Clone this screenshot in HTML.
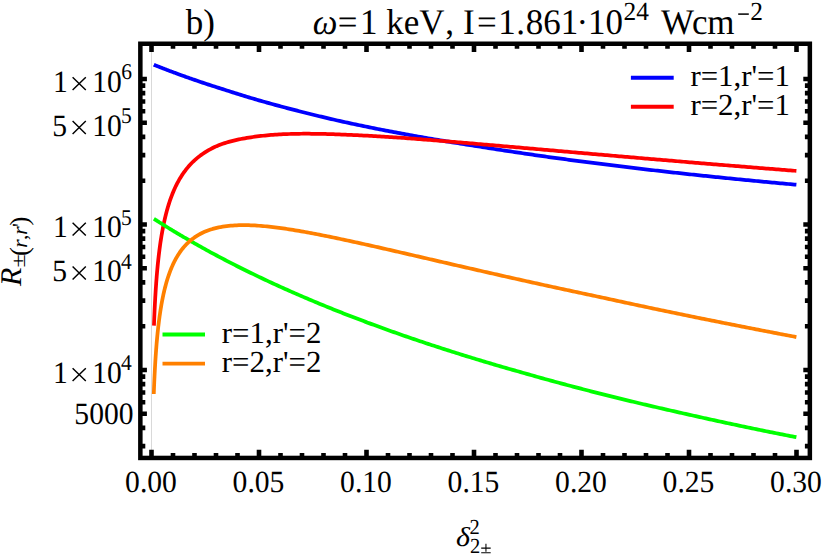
<!DOCTYPE html>
<html><head><meta charset="utf-8"><title>plot</title>
<style>
html,body{margin:0;padding:0;background:#fff;}
body{width:822px;height:554px;overflow:hidden;}
svg{display:block;font-family:"Liberation Serif",serif;fill:#000;text-rendering:geometricPrecision;}
</style></head>
<body>
<svg width="822" height="554" viewBox="0 0 822 554">
<rect x="0" y="0" width="822" height="554" fill="#ffffff"/>
<rect x="140.35" y="43.75" width="669.50" height="414.20" fill="none" stroke="#000" stroke-width="4.50"/>
<line x1="151.5" y1="46.0" x2="151.5" y2="455.7" stroke="#cfcfcf" stroke-width="0.8"/>
<path d="M151.50 456.70 v-7.00 M151.50 45.00 v7.00 M173.00 456.70 v-3.70 M173.00 45.00 v3.70 M194.50 456.70 v-3.70 M194.50 45.00 v3.70 M216.00 456.70 v-3.70 M216.00 45.00 v3.70 M237.50 456.70 v-3.70 M237.50 45.00 v3.70 M259.00 456.70 v-7.00 M259.00 45.00 v7.00 M280.50 456.70 v-3.70 M280.50 45.00 v3.70 M302.00 456.70 v-3.70 M302.00 45.00 v3.70 M323.50 456.70 v-3.70 M323.50 45.00 v3.70 M345.00 456.70 v-3.70 M345.00 45.00 v3.70 M366.50 456.70 v-7.00 M366.50 45.00 v7.00 M388.00 456.70 v-3.70 M388.00 45.00 v3.70 M409.50 456.70 v-3.70 M409.50 45.00 v3.70 M431.00 456.70 v-3.70 M431.00 45.00 v3.70 M452.50 456.70 v-3.70 M452.50 45.00 v3.70 M474.00 456.70 v-7.00 M474.00 45.00 v7.00 M495.50 456.70 v-3.70 M495.50 45.00 v3.70 M517.00 456.70 v-3.70 M517.00 45.00 v3.70 M538.50 456.70 v-3.70 M538.50 45.00 v3.70 M560.00 456.70 v-3.70 M560.00 45.00 v3.70 M581.50 456.70 v-7.00 M581.50 45.00 v7.00 M603.00 456.70 v-3.70 M603.00 45.00 v3.70 M624.50 456.70 v-3.70 M624.50 45.00 v3.70 M646.00 456.70 v-3.70 M646.00 45.00 v3.70 M667.50 456.70 v-3.70 M667.50 45.00 v3.70 M689.00 456.70 v-7.00 M689.00 45.00 v7.00 M710.50 456.70 v-3.70 M710.50 45.00 v3.70 M732.00 456.70 v-3.70 M732.00 45.00 v3.70 M753.50 456.70 v-3.70 M753.50 45.00 v3.70 M775.00 456.70 v-3.70 M775.00 45.00 v3.70 M796.50 456.70 v-7.00 M796.50 45.00 v7.00 M141.60 79.00 h5.30 M808.60 79.00 h-5.30 M141.60 122.80 h5.30 M808.60 122.80 h-5.30 M141.60 224.50 h5.30 M808.60 224.50 h-5.30 M141.60 268.30 h5.30 M808.60 268.30 h-5.30 M141.60 370.00 h5.30 M808.60 370.00 h-5.30 M141.60 413.80 h5.30 M808.60 413.80 h-5.30 M141.60 446.08 h3.70 M808.60 446.08 h-3.70 M141.60 427.90 h3.70 M808.60 427.90 h-3.70 M141.60 413.80 h5.30 M808.60 413.80 h-5.30 M141.60 402.28 h3.70 M808.60 402.28 h-3.70 M141.60 392.54 h3.70 M808.60 392.54 h-3.70 M141.60 384.10 h3.70 M808.60 384.10 h-3.70 M141.60 376.66 h3.70 M808.60 376.66 h-3.70 M141.60 326.20 h3.70 M808.60 326.20 h-3.70 M141.60 300.58 h3.70 M808.60 300.58 h-3.70 M141.60 282.40 h3.70 M808.60 282.40 h-3.70 M141.60 268.30 h5.30 M808.60 268.30 h-5.30 M141.60 256.78 h3.70 M808.60 256.78 h-3.70 M141.60 247.04 h3.70 M808.60 247.04 h-3.70 M141.60 238.60 h3.70 M808.60 238.60 h-3.70 M141.60 231.16 h3.70 M808.60 231.16 h-3.70 M141.60 180.70 h3.70 M808.60 180.70 h-3.70 M141.60 155.08 h3.70 M808.60 155.08 h-3.70 M141.60 136.90 h3.70 M808.60 136.90 h-3.70 M141.60 122.80 h5.30 M808.60 122.80 h-5.30 M141.60 111.28 h3.70 M808.60 111.28 h-3.70 M141.60 101.54 h3.70 M808.60 101.54 h-3.70 M141.60 93.10 h3.70 M808.60 93.10 h-3.70 M141.60 85.66 h3.70 M808.60 85.66 h-3.70" stroke="#000" stroke-width="4.60" fill="none"/>
<path d="M153.87 64.76 L153.92 64.79 L153.98 64.81 L154.04 64.83 L154.11 64.86 L154.17 64.88 L154.24 64.91 L154.30 64.94 L154.37 64.97 L154.45 64.99 L154.52 65.02 L154.59 65.05 L154.67 65.08 L154.75 65.12 L154.83 65.15 L154.91 65.18 L154.99 65.21 L155.08 65.25 L155.17 65.28 L155.26 65.32 L155.35 65.36 L155.45 65.39 L155.54 65.43 L155.64 65.47 L155.74 65.51 L155.85 65.56 L155.96 65.60 L156.07 65.64 L156.18 65.69 L156.30 65.73 L156.41 65.78 L156.53 65.83 L156.66 65.88 L156.79 65.93 L156.92 65.98 L157.05 66.03 L157.19 66.09 L157.33 66.14 L157.47 66.20 L157.62 66.26 L157.77 66.32 L157.92 66.38 L158.08 66.44 L158.25 66.50 L158.41 66.57 L158.58 66.64 L158.76 66.71 L158.94 66.78 L159.12 66.85 L159.31 66.92 L159.50 67.00 L159.70 67.08 L159.90 67.16 L160.11 67.24 L160.32 67.32 L160.54 67.40 L160.76 67.49 L160.99 67.58 L161.22 67.67 L161.46 67.77 L161.71 67.86 L161.96 67.96 L162.22 68.06 L162.48 68.16 L162.75 68.27 L163.03 68.38 L163.32 68.49 L163.61 68.60 L163.91 68.71 L164.21 68.83 L164.53 68.95 L164.85 69.08 L165.18 69.20 L165.51 69.33 L165.86 69.46 L166.21 69.60 L166.58 69.74 L166.95 69.88 L167.33 70.03 L167.72 70.18 L168.12 70.33 L168.53 70.48 L168.95 70.64 L169.38 70.81 L169.82 70.97 L170.27 71.14 L170.74 71.32 L171.21 71.50 L171.70 71.68 L172.20 71.86 L172.71 72.06 L173.23 72.25 L173.77 72.45 L174.32 72.65 L174.88 72.86 L175.46 73.08 L176.05 73.29 L176.65 73.52 L177.27 73.75 L177.91 73.98 L178.56 74.22 L179.23 74.46 L179.91 74.71 L180.61 74.96 L181.33 75.22 L182.07 75.49 L182.82 75.76 L183.60 76.04 L184.39 76.32 L185.20 76.61 L186.03 76.91 L186.88 77.21 L187.76 77.52 L188.65 77.84 L189.57 78.16 L190.51 78.49 L191.47 78.83 L192.45 79.17 L193.46 79.52 L194.50 79.88 L196.51 80.57 L198.53 81.26 L200.54 81.94 L202.55 82.62 L204.57 83.29 L206.58 83.96 L208.59 84.62 L210.60 85.28 L212.62 85.94 L214.63 86.59 L216.64 87.24 L218.66 87.88 L220.67 88.52 L222.68 89.15 L224.70 89.78 L226.71 90.43 L228.72 91.08 L230.73 91.72 L232.75 92.36 L234.76 92.99 L236.77 93.63 L238.79 94.25 L240.80 94.88 L242.81 95.50 L244.83 96.11 L246.84 96.73 L248.85 97.34 L250.86 97.94 L252.88 98.54 L254.89 99.14 L256.90 99.74 L258.92 100.33 L260.93 100.91 L262.94 101.48 L264.96 102.05 L266.97 102.61 L268.98 103.17 L270.99 103.73 L273.01 104.28 L275.02 104.83 L277.03 105.38 L279.05 105.92 L281.06 106.46 L283.07 107.00 L285.09 107.54 L287.10 108.07 L289.11 108.60 L291.12 109.12 L293.14 109.65 L295.15 110.17 L297.16 110.69 L299.18 111.20 L301.19 111.71 L303.20 112.22 L305.22 112.73 L307.23 113.23 L309.24 113.73 L311.26 114.23 L313.27 114.73 L315.28 115.22 L317.29 115.71 L319.31 116.20 L321.32 116.68 L323.33 117.16 L325.35 117.64 L327.36 118.12 L329.37 118.60 L331.39 119.07 L333.40 119.54 L335.41 120.01 L337.42 120.47 L339.44 120.94 L341.45 121.38 L343.46 121.82 L345.48 122.26 L347.49 122.70 L349.50 123.13 L351.52 123.56 L353.53 123.99 L355.54 124.42 L357.55 124.84 L359.57 125.27 L361.58 125.69 L363.59 126.10 L365.61 126.52 L367.62 126.93 L369.63 127.34 L371.65 127.75 L373.66 128.16 L375.67 128.57 L377.68 128.97 L379.70 129.37 L381.71 129.77 L383.72 130.17 L385.74 130.56 L387.75 130.95 L389.76 131.33 L391.78 131.71 L393.79 132.09 L395.80 132.46 L397.81 132.84 L399.83 133.21 L401.84 133.58 L403.85 133.95 L405.87 134.32 L407.88 134.68 L409.89 135.04 L411.91 135.41 L413.92 135.77 L415.93 136.12 L417.95 136.48 L419.96 136.83 L421.97 137.19 L423.98 137.54 L426.00 137.89 L428.01 138.24 L430.02 138.58 L432.04 138.93 L434.05 139.27 L436.06 139.61 L438.08 139.95 L440.09 140.29 L442.10 140.63 L444.11 140.96 L446.13 141.30 L448.14 141.63 L450.15 141.96 L452.17 142.29 L454.18 142.62 L456.19 142.95 L458.21 143.27 L460.22 143.60 L462.23 143.92 L464.24 144.24 L466.26 144.56 L468.27 144.88 L470.28 145.19 L472.30 145.51 L474.31 145.82 L476.32 146.14 L478.34 146.45 L480.35 146.76 L482.36 147.08 L484.37 147.40 L486.39 147.72 L488.40 148.04 L490.41 148.36 L492.43 148.68 L494.44 148.99 L496.45 149.31 L498.47 149.62 L500.48 149.93 L502.49 150.24 L504.50 150.55 L506.52 150.85 L508.53 151.16 L510.54 151.46 L512.56 151.77 L514.57 152.07 L516.58 152.37 L518.60 152.67 L520.61 152.97 L522.62 153.27 L524.64 153.56 L526.65 153.86 L528.66 154.15 L530.67 154.44 L532.69 154.73 L534.70 155.02 L536.71 155.31 L538.73 155.60 L540.74 155.89 L542.75 156.17 L544.77 156.46 L546.78 156.74 L548.79 157.02 L550.80 157.30 L552.82 157.58 L554.83 157.86 L556.84 158.14 L558.86 158.41 L560.87 158.69 L562.88 158.96 L564.90 159.23 L566.91 159.51 L568.92 159.78 L570.93 160.05 L572.95 160.32 L574.96 160.58 L576.97 160.85 L578.99 161.12 L581.00 161.38 L583.01 161.64 L585.03 161.91 L587.04 162.17 L589.05 162.43 L591.06 162.69 L593.08 162.95 L595.09 163.20 L597.10 163.46 L599.12 163.72 L601.13 163.97 L603.14 164.22 L605.16 164.48 L607.17 164.73 L609.18 164.98 L611.19 165.23 L613.21 165.48 L615.22 165.73 L617.23 165.97 L619.25 166.22 L621.26 166.46 L623.27 166.71 L625.29 166.95 L627.30 167.19 L629.31 167.43 L631.32 167.68 L633.34 167.92 L635.35 168.15 L637.36 168.39 L639.38 168.63 L641.39 168.86 L643.40 169.10 L645.42 169.33 L647.43 169.57 L649.44 169.80 L651.46 170.03 L653.47 170.26 L655.48 170.49 L657.49 170.72 L659.51 170.95 L661.52 171.18 L663.53 171.40 L665.55 171.63 L667.56 171.86 L669.57 172.08 L671.59 172.30 L673.60 172.53 L675.61 172.75 L677.62 172.97 L679.64 173.19 L681.65 173.41 L683.66 173.63 L685.68 173.85 L687.69 174.06 L689.70 174.28 L691.72 174.49 L693.73 174.71 L695.74 174.92 L697.75 175.14 L699.77 175.35 L701.78 175.56 L703.79 175.77 L705.81 175.98 L707.82 176.19 L709.83 176.40 L711.85 176.61 L713.86 176.81 L715.87 177.02 L717.88 177.23 L719.90 177.43 L721.91 177.64 L723.92 177.84 L725.94 178.04 L727.95 178.25 L729.96 178.45 L731.98 178.65 L733.99 178.85 L736.00 179.05 L738.01 179.25 L740.03 179.44 L742.04 179.64 L744.05 179.84 L746.07 180.03 L748.08 180.23 L750.09 180.42 L752.11 180.62 L754.12 180.81 L756.13 181.00 L758.15 181.20 L760.16 181.39 L762.17 181.58 L764.18 181.77 L766.20 181.96 L768.21 182.15 L770.22 182.33 L772.24 182.52 L774.25 182.71 L776.26 182.89 L778.28 183.08 L780.29 183.26 L782.30 183.45 L784.31 183.63 L786.33 183.82 L788.34 184.00 L790.35 184.18 L792.37 184.36 L794.38 184.54 L796.39 184.72" stroke="#0000ff" stroke-width="3.75" fill="none" stroke-linejoin="round"/>
<path d="M153.95 325.61 L154.01 324.02 L154.07 322.43 L154.13 320.84 L154.19 319.26 L154.26 317.67 L154.33 316.09 L154.40 314.50 L154.47 312.92 L154.54 311.34 L154.61 309.76 L154.69 308.18 L154.77 306.61 L154.85 305.03 L154.93 303.46 L155.01 301.89 L155.10 300.32 L155.18 298.75 L155.27 297.18 L155.37 295.62 L155.46 294.06 L155.56 292.50 L155.66 290.94 L155.76 289.38 L155.86 287.82 L155.97 286.27 L156.08 284.72 L156.19 283.17 L156.30 281.62 L156.42 280.08 L156.54 278.53 L156.66 276.99 L156.79 275.46 L156.92 273.92 L157.05 272.39 L157.18 270.86 L157.32 269.33 L157.47 267.80 L157.61 266.28 L157.76 264.76 L157.91 263.24 L158.07 261.73 L158.23 260.22 L158.39 258.71 L158.56 257.20 L158.73 255.70 L158.91 254.20 L159.09 252.71 L159.28 251.21 L159.46 249.72 L159.66 248.24 L159.86 246.76 L160.06 245.28 L160.27 243.80 L160.48 242.33 L160.70 240.87 L160.93 239.40 L161.16 237.94 L161.39 236.49 L161.63 235.04 L161.88 233.59 L162.13 232.15 L162.39 230.71 L162.66 229.28 L162.93 227.85 L163.21 226.43 L163.50 225.01 L163.79 223.60 L164.09 222.19 L164.39 220.79 L164.71 219.39 L165.03 218.00 L165.36 216.62 L165.70 215.23 L166.04 213.86 L166.40 212.49 L166.76 211.13 L167.13 209.77 L167.52 208.42 L167.91 207.08 L168.31 205.74 L168.72 204.41 L169.14 203.09 L169.57 201.77 L170.01 200.46 L170.46 199.16 L170.92 197.87 L171.39 196.58 L171.88 195.30 L172.38 194.03 L172.88 192.77 L173.41 191.51 L173.94 190.27 L174.49 189.03 L175.05 187.80 L175.62 186.58 L176.21 185.36 L176.81 184.16 L177.43 182.97 L178.06 181.78 L178.71 180.61 L179.37 179.44 L180.05 178.29 L180.75 177.15 L181.46 176.01 L182.19 174.89 L182.94 173.77 L183.71 172.67 L184.49 171.58 L185.30 170.50 L186.12 169.43 L186.96 168.38 L187.83 167.33 L188.71 166.30 L189.62 165.28 L190.55 164.27 L191.50 163.27 L192.48 162.29 L193.48 161.32 L194.50 160.36 L196.51 158.58 L198.53 156.92 L200.54 155.38 L202.55 153.94 L204.57 152.59 L206.58 151.33 L208.59 150.15 L210.60 149.05 L212.62 148.01 L214.63 147.04 L216.64 146.15 L218.66 145.33 L220.67 144.55 L222.68 143.83 L224.70 143.14 L226.71 142.51 L228.72 141.91 L230.73 141.34 L232.75 140.82 L234.76 140.32 L236.77 139.86 L238.79 139.42 L240.80 139.02 L242.81 138.64 L244.83 138.28 L246.84 137.95 L248.85 137.64 L250.86 137.33 L252.88 137.02 L254.89 136.73 L256.90 136.46 L258.92 136.20 L260.93 135.96 L262.94 135.74 L264.96 135.53 L266.97 135.34 L268.98 135.16 L270.99 134.99 L273.01 134.84 L275.02 134.70 L277.03 134.57 L279.05 134.45 L281.06 134.34 L283.07 134.24 L285.09 134.15 L287.10 134.07 L289.11 134.00 L291.12 133.94 L293.14 133.89 L295.15 133.84 L297.16 133.81 L299.18 133.77 L301.19 133.75 L303.20 133.74 L305.22 133.74 L307.23 133.74 L309.24 133.74 L311.26 133.76 L313.27 133.77 L315.28 133.80 L317.29 133.83 L319.31 133.86 L321.32 133.90 L323.33 133.94 L325.35 133.99 L327.36 134.04 L329.37 134.10 L331.39 134.16 L333.40 134.22 L335.41 134.29 L337.42 134.36 L339.44 134.44 L341.45 134.52 L343.46 134.60 L345.48 134.69 L347.49 134.78 L349.50 134.87 L351.52 134.95 L353.53 135.04 L355.54 135.14 L357.55 135.23 L359.57 135.33 L361.58 135.43 L363.59 135.53 L365.61 135.63 L367.62 135.74 L369.63 135.85 L371.65 135.96 L373.66 136.07 L375.67 136.18 L377.68 136.30 L379.70 136.42 L381.71 136.54 L383.72 136.66 L385.74 136.78 L387.75 136.91 L389.76 137.03 L391.78 137.16 L393.79 137.29 L395.80 137.42 L397.81 137.55 L399.83 137.68 L401.84 137.83 L403.85 137.98 L405.87 138.13 L407.88 138.28 L409.89 138.43 L411.91 138.58 L413.92 138.73 L415.93 138.89 L417.95 139.04 L419.96 139.20 L421.97 139.35 L423.98 139.51 L426.00 139.67 L428.01 139.83 L430.02 139.99 L432.04 140.15 L434.05 140.31 L436.06 140.47 L438.08 140.64 L440.09 140.80 L442.10 140.96 L444.11 141.13 L446.13 141.29 L448.14 141.46 L450.15 141.63 L452.17 141.79 L454.18 141.96 L456.19 142.13 L458.21 142.30 L460.22 142.47 L462.23 142.64 L464.24 142.80 L466.26 142.97 L468.27 143.15 L470.28 143.32 L472.30 143.49 L474.31 143.66 L476.32 143.83 L478.34 144.00 L480.35 144.18 L482.36 144.35 L484.37 144.52 L486.39 144.69 L488.40 144.87 L490.41 145.04 L492.43 145.22 L494.44 145.39 L496.45 145.56 L498.47 145.74 L500.48 145.91 L502.49 146.09 L504.50 146.26 L506.52 146.44 L508.53 146.61 L510.54 146.79 L512.56 146.97 L514.57 147.14 L516.58 147.32 L518.60 147.49 L520.61 147.67 L522.62 147.84 L524.64 148.02 L526.65 148.20 L528.66 148.37 L530.67 148.55 L532.69 148.73 L534.70 148.90 L536.71 149.08 L538.73 149.25 L540.74 149.43 L542.75 149.61 L544.77 149.78 L546.78 149.96 L548.79 150.14 L550.80 150.31 L552.82 150.49 L554.83 150.67 L556.84 150.84 L558.86 151.02 L560.87 151.20 L562.88 151.37 L564.90 151.55 L566.91 151.72 L568.92 151.90 L570.93 152.08 L572.95 152.25 L574.96 152.43 L576.97 152.60 L578.99 152.78 L581.00 152.96 L583.01 153.13 L585.03 153.31 L587.04 153.48 L589.05 153.66 L591.06 153.83 L593.08 154.01 L595.09 154.18 L597.10 154.36 L599.12 154.53 L601.13 154.71 L603.14 154.88 L605.16 155.06 L607.17 155.23 L609.18 155.41 L611.19 155.58 L613.21 155.75 L615.22 155.93 L617.23 156.10 L619.25 156.28 L621.26 156.45 L623.27 156.62 L625.29 156.80 L627.30 156.97 L629.31 157.14 L631.32 157.31 L633.34 157.49 L635.35 157.66 L637.36 157.83 L639.38 158.00 L641.39 158.18 L643.40 158.35 L645.42 158.52 L647.43 158.69 L649.44 158.86 L651.46 159.04 L653.47 159.21 L655.48 159.38 L657.49 159.55 L659.51 159.72 L661.52 159.89 L663.53 160.06 L665.55 160.23 L667.56 160.40 L669.57 160.57 L671.59 160.74 L673.60 160.91 L675.61 161.08 L677.62 161.25 L679.64 161.42 L681.65 161.59 L683.66 161.75 L685.68 161.92 L687.69 162.09 L689.70 162.26 L691.72 162.43 L693.73 162.60 L695.74 162.76 L697.75 162.93 L699.77 163.10 L701.78 163.26 L703.79 163.43 L705.81 163.60 L707.82 163.76 L709.83 163.93 L711.85 164.10 L713.86 164.26 L715.87 164.43 L717.88 164.59 L719.90 164.76 L721.91 164.92 L723.92 165.09 L725.94 165.25 L727.95 165.42 L729.96 165.58 L731.98 165.75 L733.99 165.91 L736.00 166.08 L738.01 166.24 L740.03 166.40 L742.04 166.57 L744.05 166.73 L746.07 166.89 L748.08 167.06 L750.09 167.22 L752.11 167.38 L754.12 167.54 L756.13 167.70 L758.15 167.87 L760.16 168.03 L762.17 168.19 L764.18 168.35 L766.20 168.51 L768.21 168.67 L770.22 168.83 L772.24 168.99 L774.25 169.15 L776.26 169.31 L778.28 169.47 L780.29 169.63 L782.30 169.79 L784.31 169.95 L786.33 170.11 L788.34 170.27 L790.35 170.43 L792.37 170.59 L794.38 170.75 L796.39 170.90" stroke="#ff0000" stroke-width="3.75" fill="none" stroke-linejoin="round"/>
<path d="M153.87 218.79 L153.92 218.82 L153.98 218.86 L154.04 218.90 L154.11 218.94 L154.17 218.98 L154.24 219.03 L154.30 219.07 L154.37 219.11 L154.45 219.16 L154.52 219.21 L154.59 219.25 L154.67 219.30 L154.75 219.35 L154.83 219.40 L154.91 219.46 L154.99 219.51 L155.08 219.57 L155.17 219.62 L155.26 219.68 L155.35 219.74 L155.45 219.80 L155.54 219.86 L155.64 219.93 L155.74 219.99 L155.85 220.06 L155.96 220.13 L156.07 220.20 L156.18 220.27 L156.30 220.34 L156.41 220.42 L156.53 220.50 L156.66 220.57 L156.79 220.66 L156.92 220.74 L157.05 220.82 L157.19 220.91 L157.33 221.00 L157.47 221.09 L157.62 221.19 L157.77 221.28 L157.92 221.38 L158.08 221.48 L158.25 221.58 L158.41 221.69 L158.58 221.80 L158.76 221.91 L158.94 222.02 L159.12 222.14 L159.31 222.26 L159.50 222.38 L159.70 222.50 L159.90 222.63 L160.11 222.76 L160.32 222.89 L160.54 223.03 L160.76 223.17 L160.99 223.32 L161.22 223.46 L161.46 223.61 L161.71 223.77 L161.96 223.93 L162.22 224.09 L162.48 224.25 L162.75 224.42 L163.03 224.60 L163.32 224.77 L163.61 224.95 L163.91 225.14 L164.21 225.33 L164.53 225.53 L164.85 225.73 L165.18 225.93 L165.51 226.14 L165.86 226.35 L166.21 226.57 L166.58 226.80 L166.95 227.03 L167.33 227.26 L167.72 227.50 L168.12 227.75 L168.53 228.00 L168.95 228.26 L169.38 228.52 L169.82 228.79 L170.27 229.07 L170.74 229.35 L171.21 229.64 L171.70 229.94 L172.20 230.24 L172.71 230.55 L173.23 230.87 L173.77 231.19 L174.32 231.52 L174.88 231.86 L175.46 232.21 L176.05 232.56 L176.65 232.93 L177.27 233.30 L177.91 233.68 L178.56 234.06 L179.23 234.46 L179.91 234.87 L180.61 235.28 L181.33 235.71 L182.07 236.14 L182.82 236.59 L183.60 237.04 L184.39 237.50 L185.20 237.98 L186.03 238.46 L186.88 238.96 L187.76 239.46 L188.65 239.98 L189.57 240.51 L190.51 241.05 L191.47 241.60 L192.45 242.17 L193.46 242.74 L194.50 243.33 L196.51 244.47 L198.53 245.60 L200.54 246.73 L202.55 247.85 L204.57 248.96 L206.58 250.07 L208.59 251.17 L210.60 252.27 L212.62 253.36 L214.63 254.44 L216.64 255.51 L218.66 256.59 L220.67 257.65 L222.68 258.71 L224.70 259.76 L226.71 260.81 L228.72 261.85 L230.73 262.89 L232.75 263.92 L234.76 264.94 L236.77 265.96 L238.79 266.98 L240.80 267.99 L242.81 268.99 L244.83 269.99 L246.84 270.98 L248.85 271.97 L250.86 272.95 L252.88 273.93 L254.89 274.90 L256.90 275.87 L258.92 276.83 L260.93 277.79 L262.94 278.75 L264.96 279.69 L266.97 280.64 L268.98 281.58 L270.99 282.51 L273.01 283.44 L275.02 284.37 L277.03 285.29 L279.05 286.20 L281.06 287.12 L283.07 288.02 L285.09 288.93 L287.10 289.83 L289.11 290.72 L291.12 291.61 L293.14 292.50 L295.15 293.38 L297.16 294.26 L299.18 295.13 L301.19 296.00 L303.20 296.87 L305.22 297.73 L307.23 298.59 L309.24 299.44 L311.26 300.29 L313.27 301.14 L315.28 301.98 L317.29 302.82 L319.31 303.65 L321.32 304.48 L323.33 305.31 L325.35 306.13 L327.36 306.95 L329.37 307.77 L331.39 308.58 L333.40 309.39 L335.41 310.20 L337.42 311.00 L339.44 311.80 L341.45 312.59 L343.46 313.38 L345.48 314.17 L347.49 314.96 L349.50 315.74 L351.52 316.52 L353.53 317.29 L355.54 318.06 L357.55 318.83 L359.57 319.60 L361.58 320.36 L363.59 321.12 L365.61 321.87 L367.62 322.63 L369.63 323.37 L371.65 324.12 L373.66 324.86 L375.67 325.60 L377.68 326.34 L379.70 327.08 L381.71 327.81 L383.72 328.54 L385.74 329.26 L387.75 329.98 L389.76 330.70 L391.78 331.42 L393.79 332.13 L395.80 332.84 L397.81 333.55 L399.83 334.26 L401.84 334.96 L403.85 335.66 L405.87 336.36 L407.88 337.05 L409.89 337.74 L411.91 338.43 L413.92 339.12 L415.93 339.80 L417.95 340.48 L419.96 341.16 L421.97 341.84 L423.98 342.51 L426.00 343.18 L428.01 343.85 L430.02 344.52 L432.04 345.18 L434.05 345.84 L436.06 346.50 L438.08 347.15 L440.09 347.81 L442.10 348.46 L444.11 349.11 L446.13 349.75 L448.14 350.40 L450.15 351.04 L452.17 351.68 L454.18 352.32 L456.19 352.95 L458.21 353.58 L460.22 354.21 L462.23 354.84 L464.24 355.47 L466.26 356.09 L468.27 356.71 L470.28 357.33 L472.30 357.95 L474.31 358.56 L476.32 359.17 L478.34 359.78 L480.35 360.39 L482.36 361.00 L484.37 361.60 L486.39 362.20 L488.40 362.80 L490.41 363.40 L492.43 363.99 L494.44 364.59 L496.45 365.18 L498.47 365.77 L500.48 366.35 L502.49 366.94 L504.50 367.52 L506.52 368.10 L508.53 368.68 L510.54 369.26 L512.56 369.84 L514.57 370.41 L516.58 370.98 L518.60 371.55 L520.61 372.12 L522.62 372.70 L524.64 373.28 L526.65 373.85 L528.66 374.42 L530.67 374.99 L532.69 375.56 L534.70 376.13 L536.71 376.70 L538.73 377.26 L540.74 377.82 L542.75 378.38 L544.77 378.94 L546.78 379.50 L548.79 380.05 L550.80 380.60 L552.82 381.15 L554.83 381.70 L556.84 382.25 L558.86 382.80 L560.87 383.34 L562.88 383.89 L564.90 384.43 L566.91 384.97 L568.92 385.50 L570.93 386.04 L572.95 386.57 L574.96 387.11 L576.97 387.64 L578.99 388.17 L581.00 388.69 L583.01 389.22 L585.03 389.75 L587.04 390.27 L589.05 390.79 L591.06 391.31 L593.08 391.83 L595.09 392.35 L597.10 392.86 L599.12 393.37 L601.13 393.88 L603.14 394.39 L605.16 394.89 L607.17 395.40 L609.18 395.90 L611.19 396.40 L613.21 396.90 L615.22 397.39 L617.23 397.89 L619.25 398.38 L621.26 398.87 L623.27 399.36 L625.29 399.85 L627.30 400.34 L629.31 400.83 L631.32 401.31 L633.34 401.80 L635.35 402.28 L637.36 402.76 L639.38 403.24 L641.39 403.72 L643.40 404.20 L645.42 404.67 L647.43 405.14 L649.44 405.62 L651.46 406.09 L653.47 406.56 L655.48 407.03 L657.49 407.50 L659.51 407.96 L661.52 408.43 L663.53 408.89 L665.55 409.35 L667.56 409.81 L669.57 410.27 L671.59 410.73 L673.60 411.19 L675.61 411.64 L677.62 412.10 L679.64 412.55 L681.65 413.01 L683.66 413.47 L685.68 413.92 L687.69 414.38 L689.70 414.83 L691.72 415.29 L693.73 415.74 L695.74 416.19 L697.75 416.64 L699.77 417.09 L701.78 417.54 L703.79 417.98 L705.81 418.43 L707.82 418.87 L709.83 419.31 L711.85 419.76 L713.86 420.20 L715.87 420.63 L717.88 421.07 L719.90 421.51 L721.91 421.95 L723.92 422.38 L725.94 422.81 L727.95 423.25 L729.96 423.68 L731.98 424.11 L733.99 424.54 L736.00 424.96 L738.01 425.39 L740.03 425.82 L742.04 426.24 L744.05 426.66 L746.07 427.09 L748.08 427.51 L750.09 427.93 L752.11 428.35 L754.12 428.76 L756.13 429.18 L758.15 429.60 L760.16 430.01 L762.17 430.42 L764.18 430.83 L766.20 431.23 L768.21 431.64 L770.22 432.04 L772.24 432.45 L774.25 432.85 L776.26 433.25 L778.28 433.65 L780.29 434.05 L782.30 434.45 L784.31 434.85 L786.33 435.25 L788.34 435.64 L790.35 436.04 L792.37 436.43 L794.38 436.82 L796.39 437.21" stroke="#00ff00" stroke-width="3.75" fill="none" stroke-linejoin="round"/>
<path d="M153.78 393.99 L153.84 392.42 L153.90 390.86 L153.96 389.29 L154.02 387.73 L154.08 386.17 L154.15 384.61 L154.21 383.05 L154.28 381.49 L154.35 379.94 L154.42 378.38 L154.50 376.83 L154.57 375.28 L154.65 373.73 L154.73 372.19 L154.81 370.64 L154.89 369.10 L154.97 367.56 L155.06 366.02 L155.15 364.49 L155.24 362.95 L155.33 361.42 L155.43 359.89 L155.53 358.36 L155.63 356.83 L155.73 355.31 L155.84 353.79 L155.94 352.27 L156.06 350.76 L156.17 349.24 L156.29 347.73 L156.41 346.22 L156.53 344.72 L156.65 343.22 L156.78 341.72 L156.91 340.22 L157.05 338.73 L157.19 337.24 L157.33 335.75 L157.48 334.27 L157.62 332.79 L157.78 331.31 L157.93 329.84 L158.10 328.37 L158.26 326.90 L158.43 325.44 L158.60 323.98 L158.78 322.53 L158.96 321.08 L159.15 319.63 L159.34 318.19 L159.53 316.75 L159.74 315.32 L159.94 313.89 L160.15 312.47 L160.37 311.05 L160.59 309.64 L160.82 308.23 L161.05 306.83 L161.29 305.43 L161.53 304.03 L161.78 302.65 L162.04 301.26 L162.30 299.89 L162.57 298.52 L162.85 297.15 L163.13 295.80 L163.42 294.44 L163.72 293.10 L164.03 291.76 L164.34 290.43 L164.66 289.10 L164.99 287.78 L165.32 286.47 L165.67 285.17 L166.02 283.87 L166.39 282.59 L166.76 281.31 L167.14 280.03 L167.53 278.77 L167.93 277.51 L168.34 276.27 L168.76 275.03 L169.19 273.80 L169.63 272.58 L170.09 271.37 L170.55 270.16 L171.03 268.97 L171.51 267.79 L172.01 266.62 L172.53 265.46 L173.05 264.31 L173.59 263.17 L174.14 262.04 L174.71 260.92 L175.29 259.82 L175.88 258.72 L176.49 257.64 L177.11 256.57 L177.75 255.51 L178.41 254.47 L179.08 253.44 L179.77 252.42 L180.48 251.41 L181.20 250.42 L181.94 249.45 L182.70 248.48 L183.48 247.54 L184.28 246.60 L185.10 245.69 L185.94 244.78 L186.80 243.90 L187.68 243.03 L188.58 242.18 L189.51 241.34 L190.46 240.52 L191.43 239.72 L192.43 238.93 L193.45 238.16 L194.50 237.42 L196.51 236.08 L198.53 234.86 L200.54 233.75 L202.55 232.74 L204.57 231.82 L206.58 230.99 L208.59 230.23 L210.60 229.55 L212.62 228.93 L214.63 228.38 L216.64 227.88 L218.66 227.43 L220.67 227.03 L222.68 226.68 L224.70 226.37 L226.71 226.10 L228.72 225.88 L230.73 225.68 L232.75 225.52 L234.76 225.39 L236.77 225.29 L238.79 225.22 L240.80 225.18 L242.81 225.16 L244.83 225.16 L246.84 225.19 L248.85 225.23 L250.86 225.30 L252.88 225.39 L254.89 225.49 L256.90 225.61 L258.92 225.75 L260.93 225.90 L262.94 226.07 L264.96 226.25 L266.97 226.45 L268.98 226.66 L270.99 226.88 L273.01 227.11 L275.02 227.35 L277.03 227.60 L279.05 227.87 L281.06 228.14 L283.07 228.42 L285.09 228.71 L287.10 229.01 L289.11 229.32 L291.12 229.63 L293.14 229.96 L295.15 230.28 L297.16 230.62 L299.18 230.96 L301.19 231.31 L303.20 231.66 L305.22 232.02 L307.23 232.39 L309.24 232.76 L311.26 233.13 L313.27 233.51 L315.28 233.89 L317.29 234.28 L319.31 234.67 L321.32 235.07 L323.33 235.47 L325.35 235.87 L327.36 236.28 L329.37 236.69 L331.39 237.10 L333.40 237.51 L335.41 237.93 L337.42 238.35 L339.44 238.78 L341.45 239.21 L343.46 239.63 L345.48 240.07 L347.49 240.50 L349.50 240.93 L351.52 241.37 L353.53 241.81 L355.54 242.25 L357.55 242.69 L359.57 243.14 L361.58 243.58 L363.59 244.03 L365.61 244.48 L367.62 244.93 L369.63 245.38 L371.65 245.83 L373.66 246.28 L375.67 246.74 L377.68 247.19 L379.70 247.65 L381.71 248.11 L383.72 248.57 L385.74 249.02 L387.75 249.48 L389.76 249.94 L391.78 250.40 L393.79 250.87 L395.80 251.33 L397.81 251.79 L399.83 252.25 L401.84 252.71 L403.85 253.18 L405.87 253.64 L407.88 254.11 L409.89 254.57 L411.91 255.04 L413.92 255.50 L415.93 255.96 L417.95 256.43 L419.96 256.90 L421.97 257.36 L423.98 257.83 L426.00 258.29 L428.01 258.76 L430.02 259.22 L432.04 259.69 L434.05 260.15 L436.06 260.62 L438.08 261.08 L440.09 261.55 L442.10 262.01 L444.11 262.48 L446.13 262.94 L448.14 263.41 L450.15 263.87 L452.17 264.33 L454.18 264.80 L456.19 265.26 L458.21 265.72 L460.22 266.19 L462.23 266.65 L464.24 267.11 L466.26 267.57 L468.27 268.03 L470.28 268.49 L472.30 268.95 L474.31 269.41 L476.32 269.87 L478.34 270.33 L480.35 270.79 L482.36 271.25 L484.37 271.71 L486.39 272.17 L488.40 272.62 L490.41 273.08 L492.43 273.54 L494.44 273.99 L496.45 274.45 L498.47 274.90 L500.48 275.36 L502.49 275.81 L504.50 276.26 L506.52 276.72 L508.53 277.17 L510.54 277.62 L512.56 278.07 L514.57 278.52 L516.58 278.97 L518.60 279.42 L520.61 279.87 L522.62 280.32 L524.64 280.76 L526.65 281.21 L528.66 281.66 L530.67 282.10 L532.69 282.55 L534.70 282.99 L536.71 283.44 L538.73 283.88 L540.74 284.32 L542.75 284.76 L544.77 285.21 L546.78 285.65 L548.79 286.09 L550.80 286.53 L552.82 286.97 L554.83 287.40 L556.84 287.84 L558.86 288.28 L560.87 288.72 L562.88 289.15 L564.90 289.59 L566.91 290.02 L568.92 290.45 L570.93 290.89 L572.95 291.32 L574.96 291.75 L576.97 292.18 L578.99 292.61 L581.00 293.04 L583.01 293.47 L585.03 293.90 L587.04 294.33 L589.05 294.76 L591.06 295.18 L593.08 295.61 L595.09 296.03 L597.10 296.46 L599.12 296.88 L601.13 297.32 L603.14 297.76 L605.16 298.20 L607.17 298.64 L609.18 299.08 L611.19 299.51 L613.21 299.95 L615.22 300.39 L617.23 300.82 L619.25 301.26 L621.26 301.69 L623.27 302.13 L625.29 302.56 L627.30 302.99 L629.31 303.43 L631.32 303.86 L633.34 304.29 L635.35 304.72 L637.36 305.15 L639.38 305.58 L641.39 306.00 L643.40 306.43 L645.42 306.86 L647.43 307.28 L649.44 307.71 L651.46 308.13 L653.47 308.56 L655.48 308.98 L657.49 309.40 L659.51 309.83 L661.52 310.25 L663.53 310.67 L665.55 311.09 L667.56 311.51 L669.57 311.93 L671.59 312.35 L673.60 312.76 L675.61 313.18 L677.62 313.60 L679.64 314.01 L681.65 314.43 L683.66 314.84 L685.68 315.25 L687.69 315.67 L689.70 316.08 L691.72 316.49 L693.73 316.90 L695.74 317.31 L697.75 317.72 L699.77 318.13 L701.78 318.54 L703.79 318.94 L705.81 319.35 L707.82 319.75 L709.83 320.16 L711.85 320.56 L713.86 320.96 L715.87 321.37 L717.88 321.77 L719.90 322.17 L721.91 322.57 L723.92 322.97 L725.94 323.37 L727.95 323.77 L729.96 324.16 L731.98 324.56 L733.99 324.96 L736.00 325.35 L738.01 325.75 L740.03 326.14 L742.04 326.54 L744.05 326.93 L746.07 327.32 L748.08 327.72 L750.09 328.11 L752.11 328.50 L754.12 328.90 L756.13 329.29 L758.15 329.68 L760.16 330.08 L762.17 330.47 L764.18 330.86 L766.20 331.25 L768.21 331.64 L770.22 332.03 L772.24 332.42 L774.25 332.81 L776.26 333.20 L778.28 333.58 L780.29 333.97 L782.30 334.36 L784.31 334.74 L786.33 335.13 L788.34 335.51 L790.35 335.89 L792.37 336.28 L794.38 336.66 L796.39 337.04" stroke="#ff8000" stroke-width="3.75" fill="none" stroke-linejoin="round"/>
<path d="M630.9 77.75H673.7" stroke="#0000ff" stroke-width="3.9"/>
<path d="M630.9 106.7H673.7" stroke="#ff0000" stroke-width="3.9"/>
<path d="M162.5 334.55H205" stroke="#00ff00" stroke-width="3.9"/>
<path d="M162.5 363.65H205" stroke="#ff8000" stroke-width="3.9"/>
<text transform="translate(690.38 85.80) scale(1.0000 0.9850)" font-size="30.90">r=1,r&#39;=1</text>
<text transform="translate(690.38 115.00) scale(1.0000 0.9850)" font-size="30.90">r=2,r&#39;=1</text>
<text transform="translate(221.78 342.80) scale(1.0000 0.9850)" font-size="30.90">r=1,r&#39;=2</text>
<text transform="translate(221.78 372.00) scale(1.0000 0.9850)" font-size="30.90">r=2,r&#39;=2</text>
<text transform="translate(125.10 492.30) scale(1.0000 1.0400)" font-size="29.60">0.00</text>
<text transform="translate(232.61 492.30) scale(1.0000 1.0400)" font-size="29.60">0.05</text>
<text transform="translate(340.10 492.30) scale(1.0000 1.0400)" font-size="29.60">0.10</text>
<text transform="translate(447.61 492.30) scale(1.0000 1.0400)" font-size="29.60">0.15</text>
<text transform="translate(555.10 492.30) scale(1.0000 1.0400)" font-size="29.60">0.20</text>
<text transform="translate(662.61 492.30) scale(1.0000 1.0400)" font-size="29.60">0.25</text>
<text transform="translate(770.10 492.30) scale(1.0000 1.0400)" font-size="29.60">0.30</text>
<text transform="translate(53.00 91.90) scale(1.0000 1.0500)" font-size="29.60">1</text><path d="M72.6 77.30 l13.2 12.8 m0 -12.8 l-13.2 12.8" stroke="#000" stroke-width="1.45" fill="none"/><text transform="translate(92.30 91.90) scale(1.0000 1.0500)" font-size="29.60">10</text><text transform="translate(121.28 79.30) scale(1.0000 1.0500)" font-size="21.50">6</text>
<text transform="translate(52.28 135.70) scale(1.0000 1.0500)" font-size="29.60">5</text><path d="M72.6 121.10 l13.2 12.8 m0 -12.8 l-13.2 12.8" stroke="#000" stroke-width="1.45" fill="none"/><text transform="translate(92.30 135.70) scale(1.0000 1.0500)" font-size="29.60">10</text><text transform="translate(120.95 123.10) scale(1.0000 1.0500)" font-size="21.50">5</text>
<text transform="translate(53.00 237.40) scale(1.0000 1.0500)" font-size="29.60">1</text><path d="M72.6 222.80 l13.2 12.8 m0 -12.8 l-13.2 12.8" stroke="#000" stroke-width="1.45" fill="none"/><text transform="translate(92.30 237.40) scale(1.0000 1.0500)" font-size="29.60">10</text><text transform="translate(120.95 224.80) scale(1.0000 1.0500)" font-size="21.50">5</text>
<text transform="translate(52.28 281.20) scale(1.0000 1.0500)" font-size="29.60">5</text><path d="M72.6 266.60 l13.2 12.8 m0 -12.8 l-13.2 12.8" stroke="#000" stroke-width="1.45" fill="none"/><text transform="translate(92.30 281.20) scale(1.0000 1.0500)" font-size="29.60">10</text><text transform="translate(120.98 268.60) scale(1.0000 1.0500)" font-size="21.50">4</text>
<text transform="translate(53.00 382.90) scale(1.0000 1.0500)" font-size="29.60">1</text><path d="M72.6 368.30 l13.2 12.8 m0 -12.8 l-13.2 12.8" stroke="#000" stroke-width="1.45" fill="none"/><text transform="translate(92.30 382.90) scale(1.0000 1.0500)" font-size="29.60">10</text><text transform="translate(120.98 370.30) scale(1.0000 1.0500)" font-size="21.50">4</text>
<text transform="translate(74.33 424.20) scale(1.0000 1.0500)" font-size="29.60">5000</text>
<text transform="translate(185.80 34.10) scale(1.0000 1.0300)" font-size="35.00">b)</text>
<text transform="translate(312.64 34.10) scale(1.0000 1.0300)" font-size="35.00" font-style="italic">ω</text>
<text transform="translate(337.86 34.10) scale(1.0000 1.0300)" font-size="35.00">=</text>
<text transform="translate(359.92 34.10) scale(1.0000 1.0300)" font-size="35.00">1</text>
<text transform="translate(386.13 34.10) scale(1.0000 1.0300)" font-size="35.00">keV</text>
<text transform="translate(445.37 34.10) scale(1.0000 1.0300)" font-size="35.00">,</text>
<text transform="translate(463.04 34.10) scale(1.0000 1.0300)" font-size="35.00">I</text>
<text transform="translate(476.96 34.10) scale(1.0000 1.0300)" font-size="35.00">=</text>
<text transform="translate(498.32 34.10) scale(1.0000 1.0300)" font-size="35.00">1</text>
<text transform="translate(516.29 34.10) scale(1.0000 1.0300)" font-size="35.00">.</text>
<text transform="translate(525.67 34.10) scale(1.0000 1.0300)" font-size="35.00">861</text>
<text transform="translate(576.44 34.10) scale(1.0000 1.0300)" font-size="35.00">·</text>
<text transform="translate(587.92 34.10) scale(1.0000 1.0300)" font-size="35.00">10</text>
<text transform="translate(623.48 19.70) scale(1.0000 1.0300)" font-size="25.40">24</text>
<text transform="translate(660.97 34.10) scale(1.0000 1.0300)" font-size="35.00">W</text>
<text transform="translate(692.07 34.10) scale(1.0000 1.0300)" font-size="35.00">c</text>
<text transform="translate(707.27 34.10) scale(1.0000 1.0300)" font-size="35.00">m</text>
<rect x="738.2" y="13.35" width="10.6" height="1.5" fill="#000"/>
<text transform="translate(750.18 19.70) scale(1.0000 1.0300)" font-size="25.40">2</text>
<text transform="translate(456.12 546.00) scale(1.0000 0.9100)" font-size="30.00" font-style="italic">δ</text>
<text transform="translate(469.50 533.50) scale(1.0000 1.0500)" font-size="20.50">2</text>
<text transform="translate(469.90 553.40) scale(1.0000 1.0500)" font-size="20.50">2</text>
<path d="M481.2 548.1H490.7M485.95 543.8V551.8M481.2 552.7H490.7" stroke="#000" stroke-width="1.05" fill="none"/>
<g transform="translate(20.8,285.9) rotate(-90)"><text x="0" y="0" font-size="30" font-style="italic">R</text><text transform="translate(18.40 4.40) scale(1.1500 0.9500)" font-size="21.00">±</text><text transform="translate(29.84 7.00) scale(1.0000 1.0000)" font-size="26.50">(</text><text transform="translate(38.13 6.30) scale(1.0000 1.0000)" font-size="21.50" font-style="italic">r</text><text transform="translate(45.88 6.30) scale(1.0000 1.0000)" font-size="21.50">,</text><text transform="translate(51.23 6.30) scale(1.0000 1.0000)" font-size="21.50" font-style="italic">r</text><text transform="translate(58.80 6.30) scale(1.0000 1.0000)" font-size="21.50">&#39;</text><text transform="translate(60.35 7.00) scale(1.0000 1.0000)" font-size="26.50">)</text></g>
</svg>
</body></html>
